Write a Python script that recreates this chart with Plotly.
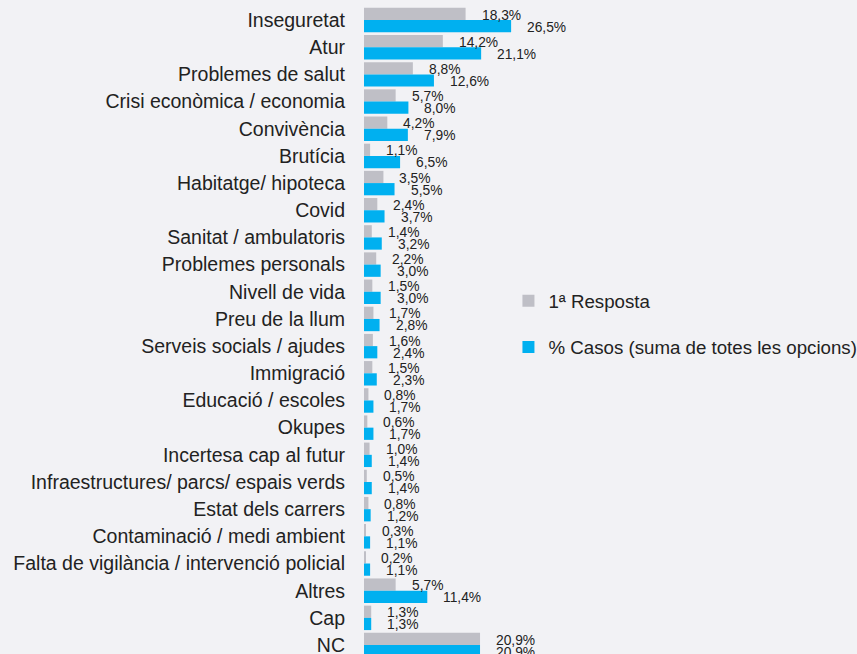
import plotly.graph_objects as go

categories = [
    "Inseguretat", "Atur", "Problemes de salut", "Crisi econòmica / economia",
    "Convivència", "Brutícia", "Habitatge/ hipoteca", "Covid",
    "Sanitat / ambulatoris", "Problemes personals", "Nivell de vida",
    "Preu de la llum", "Serveis socials / ajudes", "Immigració",
    "Educació / escoles", "Okupes", "Incertesa cap al futur",
    "Infraestructures/ parcs/ espais verds", "Estat dels carrers",
    "Contaminació / medi ambient", "Falta de vigilància / intervenció policial",
    "Altres", "Cap", "NC",
]
primera_resposta = [18.3, 14.2, 8.8, 5.7, 4.2, 1.1, 3.5, 2.4, 1.4, 2.2, 1.5, 1.7,
                    1.6, 1.5, 0.8, 0.6, 1.0, 0.5, 0.8, 0.3, 0.2, 5.7, 1.3, 20.9]
casos = [26.5, 21.1, 12.6, 8.0, 7.9, 6.5, 5.5, 3.7, 3.2, 3.0, 3.0, 2.8,
         2.4, 2.3, 1.7, 1.7, 1.4, 1.4, 1.2, 1.1, 1.1, 11.4, 1.3, 20.9]

series_names = ["1ª Resposta", "% Casos (suma de totes les opcions)"]
GRAY = "#BFBFC6"
BLUE = "#00B0F0"
BG = "#F2F2F5"
FONT = "Liberation Sans"


def fmt(v):
    return f"{v:.1f}".replace(".", ",") + "%"


fig = go.Figure()
fig.add_trace(go.Bar(y=categories, x=primera_resposta, orientation="h",
                     name=series_names[0], marker=dict(color=GRAY, line=dict(width=0)),
                     legendgroup="a"))
fig.add_trace(go.Bar(y=categories, x=casos, orientation="h",
                     name=series_names[1], marker=dict(color=BLUE, line=dict(width=0)),
                     legendgroup="b"))

annotations = []
for c, v in zip(categories, primera_resposta):
    annotations.append(dict(x=v, y=c, text=fmt(v), showarrow=False, xanchor="left",
                            xshift=14, yshift=5, font=dict(size=13.8, color="#222", family=FONT)))
for c, v in zip(categories, casos):
    annotations.append(dict(x=v, y=c, text=fmt(v), showarrow=False, xanchor="left",
                            xshift=14, yshift=-7, font=dict(size=13.8, color="#222", family=FONT)))

n = len(categories)
fig.update_layout(
    width=857, height=654,
    paper_bgcolor=BG, plot_bgcolor=BG,
    margin=dict(l=364, r=0, t=7, b=0, autoexpand=False),
    barmode="group", bargap=0.1, bargroupgap=0,
    font=dict(family=FONT, size=19.5, color="#222"),
    showlegend=True,
    legend=dict(x=0.293, y=0.575, xanchor="left", yanchor="top",
                bgcolor="rgba(0,0,0,0)", font=dict(size=18.7, family=FONT),
                tracegroupgap=19, traceorder="grouped", itemwidth=30),
    xaxis=dict(range=[0, 88.8], visible=False, showgrid=False, zeroline=False),
    yaxis=dict(type="category", categoryorder="array", categoryarray=categories,
               range=[n - 1 + 0.33, -0.48], showgrid=False, zeroline=False,
               ticks="", ticklabelstandoff=18, showline=False, automargin=False),
    annotations=annotations,
)

fig.write_html("out.html", config={"displayModeBar": False},
               post_script="document.body.style.margin='0';document.body.style.overflow='hidden';")
